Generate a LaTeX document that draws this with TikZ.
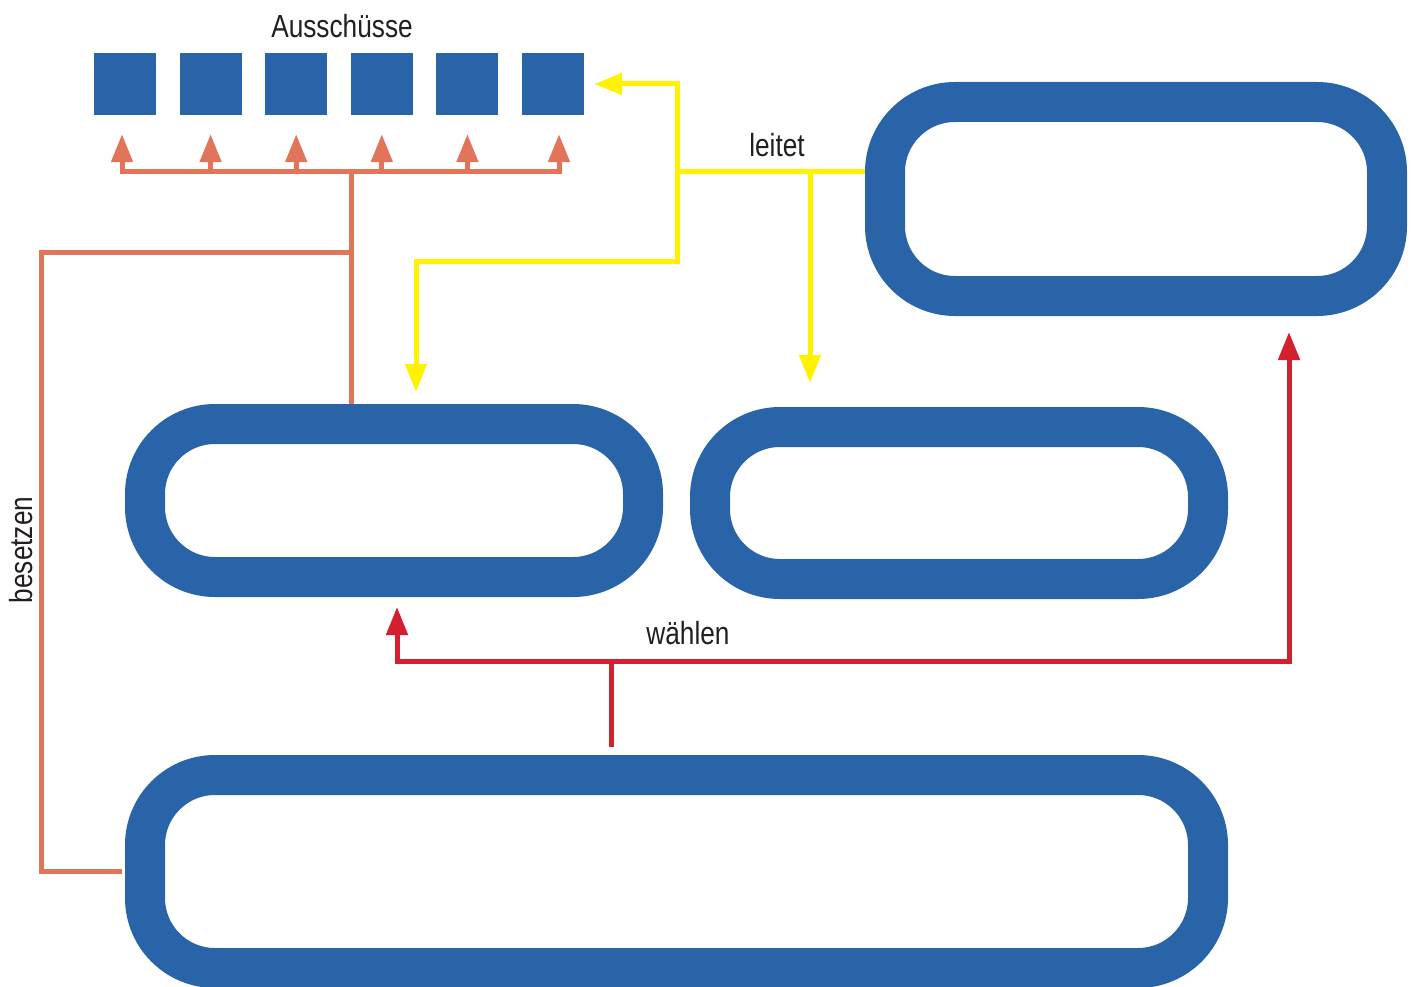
\documentclass[tikz,border=0pt]{standalone}
\usepackage{fontspec}
\setmainfont[FakeStretch=0.82]{Liberation Sans}
\usepackage{xcolor}
\usepackage{tikz}
\usetikzlibrary{arrows.meta,calc,positioning}

\definecolor{blau}{RGB}{40,100,167}
\definecolor{besetzfarbe}{RGB}{224,117,90}
\definecolor{leitfarbe}{RGB}{255,242,0}
\definecolor{wahlfarbe}{RGB}{212,32,46}
\definecolor{schrift}{RGB}{35,31,32}

\tikzset{
	kasten/.style={draw=blau, line width=40pt, rounded corners=70pt, inner sep=0pt},
	ausschuss/.style={fill=blau, minimum size=62pt, inner sep=0pt},
	beschriftung/.style={font=\fontsize{32}{37}\selectfont, text=schrift, inner sep=0pt},
	spitze/.style={-{Triangle[length=28pt,width=21pt]}},
	orangelinie/.style={draw=besetzfarbe, line width=5pt},
	orangepfeil/.style={orangelinie, spitze, besetzfarbe},
	gelbpfeil/.style={draw=leitfarbe, line width=5pt, spitze, leitfarbe},
	rotlinie/.style={draw=wahlfarbe, line width=5pt},
	rotpfeil/.style={rotlinie, spitze, wahlfarbe}
}

\begin{document}
\begin{tikzpicture} [x=1pt, y=-1pt, node distance=85.6pt]
		
		\useasboundingbox (0,0) rectangle (1414,987);
		
		\node (box_R) [kasten, minimum width=502pt, minimum height=194pt] at (1136,199) {};
		
		\node (box_ML) [kasten, minimum width=498pt, minimum height=153pt] at (394,500.5) {};
		
		\node (box_MR) [kasten, minimum width=498pt, minimum height=152pt] at (959,503) {};
		
		\node (box_B) [kasten, minimum width=1063pt, minimum height=193pt] at (676.5,871.5) {};
		
		
		\node (A_1) [ausschuss] at (125,84) {};
		
		\node (A_2) [ausschuss, right of= A_1] {};
		
		\node (A_3) [ausschuss, right of= A_2] {};
		
		\node (A_4) [ausschuss, right of= A_3] {};
		
		\node (A_5) [ausschuss, right of= A_4] {};
		
		\node (A_6) [ausschuss, right of= A_5] {};
		
		\node (ausschuesse) [beschriftung] at (342,26) {Ausschüsse};
		
		
		\coordinate (bar) at (351,172);
		
		\coordinate (links) at (41,253);
		
		\coordinate (gelb_k) at (677,172);
		
		\coordinate (gelb_m) at (810,172);
		
		\coordinate (rot_k) at (611,661);
		
		
		% besetzen
		\draw [orangepfeil, shorten >=19pt] ([xshift=-3pt]A_1.south |- bar) to ([xshift=-3pt]A_1.south);
		
		\draw [orangepfeil, shorten >=19pt] (A_2.south |- bar) to (A_2.south);
		
		\draw [orangepfeil, shorten >=19pt] (A_3.south |- bar) to (A_3.south);
		
		\draw [orangepfeil, shorten >=19pt] (A_4.south |- bar) to (A_4.south);
		
		\draw [orangepfeil, shorten >=19pt] (A_5.south |- bar) to (A_5.south);
		
		\draw [orangepfeil, shorten >=19pt] ([xshift=6pt]A_6.south |- bar) to ([xshift=6pt]A_6.south);
		
		\draw [orangelinie, line cap=rect] ([xshift=-3pt]A_1.south |- bar) to ([xshift=6pt]A_6.south |- bar);
		
		\draw [orangelinie] (bar |- box_ML.north) to (bar);
		
		\draw [orangelinie, shorten <=3pt] (box_B.west) -| (links) -- (links -| bar);
		
		\node (besetzen) [beschriftung, rotate=90] at (21,550) {besetzen};
		
		
		% leitet
		\draw [gelbpfeil, shorten >=10pt] (box_R.west |- gelb_k) -- (gelb_k) |- (A_6.east);
		
		\draw [gelbpfeil, shorten >=12pt] (gelb_k) -- ++(0,90) -| ([xshift=22pt]box_ML.north);
		
		\draw [gelbpfeil, shorten >=24pt] (gelb_m) to (gelb_m |- box_MR.north);
		
		\node (leitet) [beschriftung] at (777,145) {leitet};
		
		
		% wählen
		\draw [rotlinie, shorten <=8pt] (rot_k |- box_B.north) to (rot_k);
		
		\draw [rotpfeil, shorten >=10pt] (rot_k) -| ([xshift=3pt]box_ML.south);
		
		\draw [rotpfeil, shorten >=16pt] (rot_k) -| ([xshift=153pt]box_R.south);
		
		\node (waehlen) [beschriftung] at (688,633) {wählen};
		
\end{tikzpicture}
\end{document}
